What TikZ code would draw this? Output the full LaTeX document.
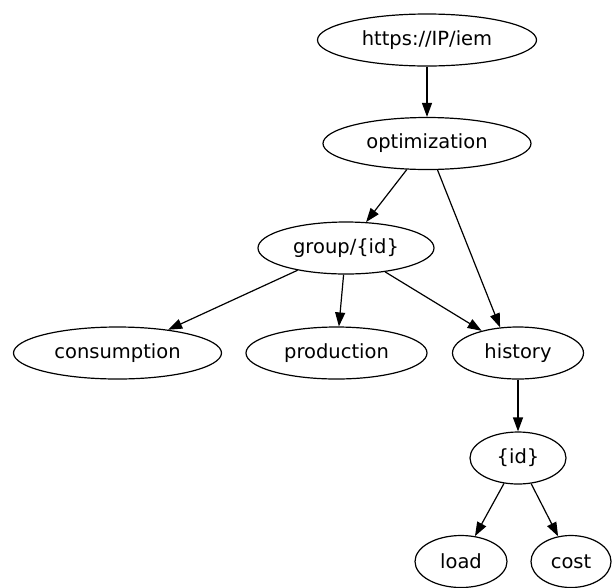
\documentclass[tikz,border=0pt]{standalone}
\usepackage{fontspec}
\setmainfont{DejaVu Sans}
\usetikzlibrary{shapes.geometric,arrows.meta}
\tikzset{
  ell/.style={draw, ellipse, line width=1.2pt, inner sep=0pt, minimum height=52pt, font=\fontsize{19.5}{23}\selectfont},
  conn/.style={line width=1.2pt, -{Triangle[length=14pt,width=10pt]}}
}
\begin{document}
\begin{tikzpicture}[x=1pt,y=-1pt]
\useasboundingbox (0,0) rectangle (612,587);
\node[ell, minimum width=219pt] (root) at (427,40) {https://IP/iem};
\node[ell, minimum width=208pt] (opt) at (427,143.5) {optimization};
\node[ell, minimum width=176pt] (grp) at (346,248) {group/\{id\}};
\node[ell, minimum width=208pt] (cons) at (117.5,353) {consumption};
\node[ell, minimum width=181pt] (prod) at (336.5,353) {production};
\node[ell, minimum width=131pt] (hist) at (518,353) {history};
\node[ell, minimum width=96pt] (id) at (518,458) {\{id\}};
\node[ell, minimum width=92pt] (load) at (461,561.5) {load};
\node[ell, minimum width=80pt] (cost) at (571,561.5) {cost};
\draw[conn] (root) -- (opt);
\draw[conn] (opt) -- (grp);
\draw[conn] (opt) -- (hist.125);
\draw[conn] (grp) -- (cons);
\draw[conn] (grp) -- (prod);
\draw[conn] (grp) -- (hist);
\draw[conn] (hist) -- (id);
\draw[conn] (id) -- (load);
\draw[conn] (id) -- (cost);
\end{tikzpicture}
\end{document}
